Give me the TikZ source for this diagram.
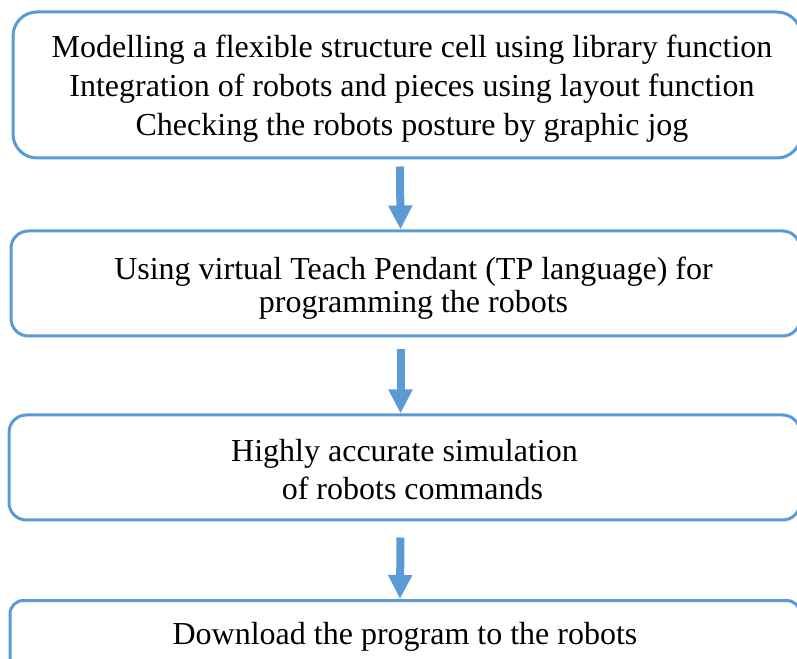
\documentclass[tikz,border=0pt]{standalone}
\usepackage{fontspec}
\setmainfont{Liberation Serif}
\usepackage{xcolor}
\usepackage{tikz}
\usetikzlibrary{arrows.meta, calc}
\definecolor{stepblue}{HTML}{5B9BD5}
\newcommand{\pxu}{0.75pt}

\begin{document}
\begin{tikzpicture}[
  x=0.75pt, y=-0.75pt,
  stepbox/.style={rectangle, draw=stepblue, line width=2.25pt, fill=white, align=center, inner sep=0pt, font=\fontsize{24}{25}\selectfont},
  flow/.style={-{Triangle[width=17pt, length=18pt]}, line width=6pt, stepblue}
]
\useasboundingbox (0,0) rectangle (797,659);
\clip (0,0) rectangle (797,659);
\node[stepbox, rounded corners=18pt, minimum width=788*\pxu, minimum height=146*\pxu, font=\fontsize{24}{29}\selectfont] (model) at (407,85) {\hspace*{7.5pt}\rule{0pt}{22.4pt}Modelling a flexible structure cell using library function\\\hspace*{7.5pt}Integration of robots and pieces using layout function\\\hspace*{7.5pt}Checking the robots posture by graphic jog};
\node[stepbox, rounded corners=13pt, minimum width=789*\pxu, minimum height=105*\pxu] (teach) at (405.5,283.5) {\hspace*{12pt}\rule{0pt}{23.5pt}Using virtual Teach Pendant (TP language) for\\\hspace*{12pt}programming the robots};
\node[stepbox, rounded corners=13pt, minimum width=791*\pxu, minimum height=105*\pxu, font=\fontsize{24}{28.5}\selectfont] (simul) at (404.5,467.5) {\rule{0pt}{19.4pt}Highly accurate simulation\\\ \ of robots commands};
\node[stepbox, rounded corners=10pt, minimum width=790*\pxu, anchor=north, text height=33pt, text depth=50pt] (download) at (405,599) {Download the program to the robots};
\draw[flow] ($(model.south)+(-7,7)$) -- ($(teach.north)+(-5,0)$);
\draw[flow] ($(teach.south)+(-5,12)$) -- ($(simul.north)+(-4,0)$);
\draw[flow] ($(simul.south)+(-4,16)$) -- ($(download.north)+(-5,0)$);
\end{tikzpicture}
\end{document}
